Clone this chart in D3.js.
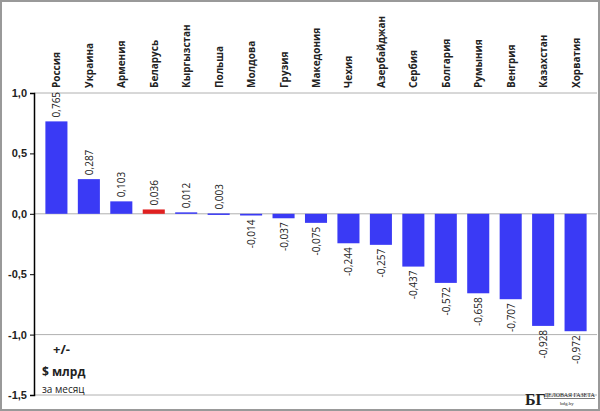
<!DOCTYPE html>
<html><head><meta charset="utf-8">
<script src="https://cdn.jsdelivr.net/npm/d3@7"></script>
<style>body{margin:0;background:#fff}svg{display:block}</style>
</head><body><svg id="chart"></svg>
<script>
const countries = ['Россия','Украина','Армения','Беларусь','Кыргызстан','Польша','Молдова','Грузия','Македония','Чехия','Азербайджан','Сербия','Болгария','Румыния','Венгрия','Казахстан','Хорватия']
const values = [0.765,0.287,0.103,0.036,0.012,0.003,-0.014,-0.037,-0.075,-0.244,-0.257,-0.437,-0.572,-0.658,-0.707,-0.928,-0.972]
const tickValues = [1.0,0.5,0.0,-0.5,-1.0,-1.5]
const gridValues = [1.0,0.0,-1.0,-1.5]

const W = 600, H = 411
const svg = d3.select('#chart').attr('width', W).attr('height', H)
  .style('font-family','"Open Sans", sans-serif')

svg.append('rect').attr('x',1).attr('y',1).attr('width',W-2).attr('height',H-2)
  .attr('fill','#fff').attr('stroke','#999').attr('stroke-width',2)

const x = d3.scaleBand().domain(countries).range([35, 597]).padding(0.32)
const y = d3.scaleLinear().domain([-1.5, 1.0]).range([395, 93])

// grid lines
svg.append('g').selectAll('line').data(gridValues).join('line')
  .attr('x1', 34).attr('x2', 597)
  .attr('y1', d => y(d)).attr('y2', d => y(d))
  .attr('stroke', '#b0b0b0').attr('stroke-width', 1)

const fmt = v => d3.format('.1f')(v).replace('.', ',').replace('−','-')
const axis = svg.append('g').attr('transform','translate(34,0)')
  .call(d3.axisLeft(y).tickValues(tickValues).tickSize(4).tickFormat(fmt))
axis.select('.domain').attr('stroke','#000').attr('stroke-width',1.5)
axis.selectAll('text').attr('font-size',11).attr('font-weight','bold').attr('fill','#222')

svg.append('g').selectAll('rect').data(countries).join('rect')
  .attr('x', d => x(d))
  .attr('width', x.bandwidth())
  .attr('y', (d,i) => y(Math.max(0, values[i])))
  .attr('height', (d,i) => Math.max(1.5, Math.abs(y(values[i]) - y(0))))
  .attr('fill', d => d === 'Беларусь' ? '#e02020' : '#3a3af5')

// country labels
svg.append('g').selectAll('text').data(countries).join('text')
  .attr('transform', d => `translate(${x(d) + x.bandwidth()/2 + 4},88) rotate(-90)`)
  .attr('font-size', 10).attr('font-weight','bold').attr('fill','#222')
  .text(d => d)

// value labels
svg.append('g').selectAll('text').data(countries).join('text')
  .attr('transform', (d,i) => {
    const v = values[i]
    const yy = v >= 0 ? y(v) - 4 : y(v) + 4
    return `translate(${x(d) + x.bandwidth()/2 + 4},${yy}) rotate(-90)`
  })
  .attr('text-anchor', (d,i) => values[i] >= 0 ? 'start' : 'end')
  .attr('font-size', 10).attr('fill','#222')
  .text((d,i) => String(values[i]).replace('.', ','))

// unit label
const u = svg.append('g').attr('fill','#222').attr('font-weight','bold')
u.append('text').attr('x',53).attr('y',354).attr('font-size',13).text('+/-')
u.append('text').attr('x',42).attr('y',376).attr('font-size',12).text('$ млрд')
u.append('text').attr('x',42).attr('y',393).attr('font-size',10).attr('font-weight','normal').text('за месяц')

// logo
const lg = svg.append('g').attr('fill','#222').attr('font-family','"Liberation Serif", serif')
lg.append('text').attr('x',525).attr('y',405).attr('font-size',16).attr('font-weight','bold').text('БГ')
lg.append('text').attr('x',544).attr('y',397).attr('font-size',6).attr('text-decoration','underline').text('ДЕЛОВАЯ ГАЗЕТА')
lg.append('text').attr('x',560).attr('y',405).attr('font-size',5).text('bdg.by')
</script></body></html>
